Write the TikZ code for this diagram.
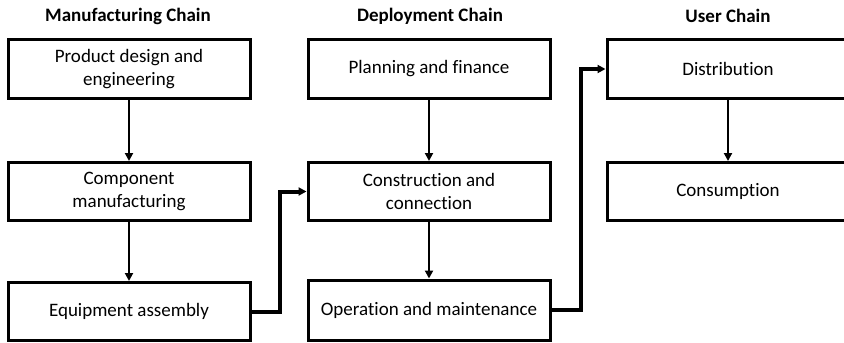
\documentclass[tikz,border=0pt]{standalone}
\usepackage{fontspec}
\setmainfont{Carlito}[Ligatures=CommonOff]
\usetikzlibrary{positioning}
\usetikzlibrary{arrows.meta}
\tikzset{every picture/.style={x=0.5pt,y=-0.5pt},
stagebox/.style={draw,rectangle,line width=1.5pt,minimum width=121pt,minimum height=29pt,align=center,inner sep=0pt,font=\fontsize{9.5}{11.5}\selectfont},
chaintitle/.style={font=\fontsize{9.5}{11.5}\selectfont\bfseries},
flow/.style={line width=1.1pt,-{Triangle[length=4pt,width=4pt]}},
link/.style={line width=2pt,-{Triangle[length=4pt,width=4pt]}}}
\begin{document}
\begin{tikzpicture}
\useasboundingbox (0,0) rectangle (844,342);

\node (t1) at (128,16) [chaintitle] {Manufacturing Chain};
\node (t2) at (430,16) [chaintitle] {Deployment Chain};
\node (t3) at (728,16) [chaintitle] {User Chain};

\node (m1) at (129,69) [stagebox] {Product design and\\engineering};
\node (m2) at (129,191.5) [stagebox] {Component\\manufacturing};
\node (m3) at (129,311.5) [stagebox] {Equipment assembly};
\draw [flow] (m1) -- (m2);
\draw [flow] (m2) -- (m3);

\node (d1) at (429,69) [stagebox] {Planning and finance};
\node (d2) at (429,191.5) [stagebox] {Construction and\\connection};
\node (d3) at (429,310) [stagebox,minimum height=30pt] {Operation and maintenance};
\draw [flow] (d1) -- (d2);
\draw [flow] (d2) -- (d3);

\node (u1) at (728,69) [stagebox] {Distribution};
\node (u2) at (728,191.5) [stagebox] {Consumption};
\draw [flow] (u1) -- (u2);

\draw [link] (m3.east) -- ++(28,0) |- (d2.west);
\draw [link] (d3.east) -- ++(29,0) |- (u1.west);

\end{tikzpicture}
\end{document}
